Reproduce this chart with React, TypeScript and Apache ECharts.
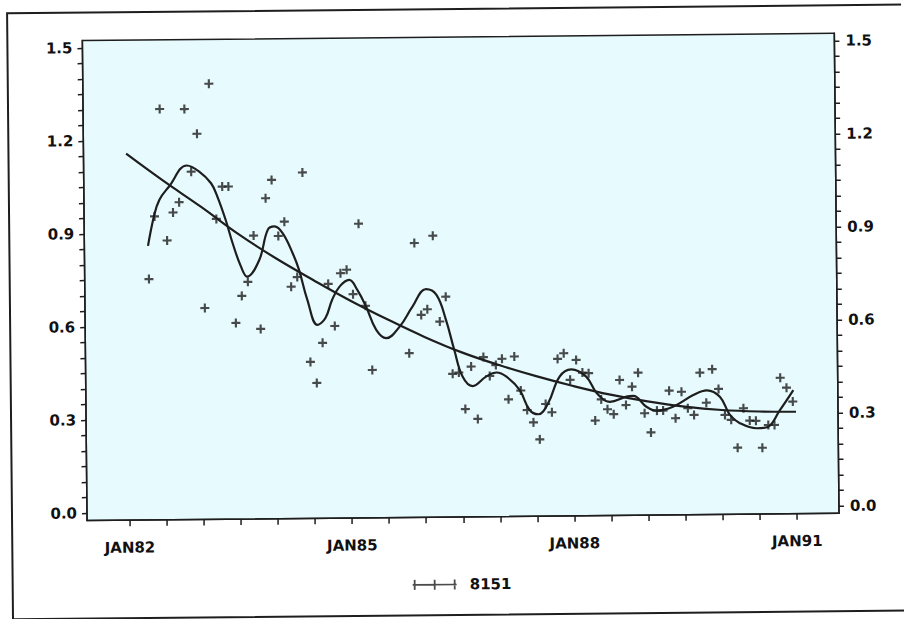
import React, { useEffect, useRef } from 'react';
import * as echarts from 'echarts';

// Months are counted from JAN82 (0 = January 1982).
const seriesName = '8151';
const firstMonth = 3; // first observation: April 1982
const monthlyValues: (number | null)[] = [
  0.753, 0.955, 1.301, 0.877, 0.967, 1.0, 1.3, 1.098, 1.22, 0.658,
  1.381, 0.945, 1.049, 1.049, 0.609, 0.696, 0.741, 0.89, 0.589, 1.01,
  1.069, 0.888, 0.934, 0.724, 0.755, 1.092, 0.481, 0.413, 0.542, 0.732,
  0.596, 0.766, 0.777, 0.698, 0.925, 0.66, 0.453,
  null, null, null, null, null,
  0.506, 0.861, 0.629, 0.647, 0.884, 0.607, 0.687, 0.438, 0.442, 0.324,
  0.461, 0.292, 0.491, 0.43, 0.465, 0.485, 0.354, 0.492, 0.382, 0.319,
  0.279, 0.224, 0.338, 0.311, 0.483, 0.501, 0.415, 0.479, 0.438, 0.436,
  0.283, 0.351, 0.319, 0.303, 0.413, 0.332, 0.391, 0.436, 0.305, 0.243,
  0.313, 0.313, 0.377, 0.288, 0.373, 0.32, 0.298, 0.434, 0.337, 0.445,
  0.381, 0.297, 0.281, 0.191, 0.318, 0.278, 0.277, 0.19, 0.263, 0.263,
  0.415, 0.383, 0.338,
];

const trendMonths = [0, 6, 12, 18, 24, 30, 36, 42, 48, 54, 60, 66, 72, 78, 84, 90, 96, 102, 108];
const trendValues = [1.158, 1.069, 0.985, 0.896, 0.817, 0.746, 0.678, 0.616, 0.558, 0.507, 0.465, 0.428, 0.395, 0.366, 0.343, 0.325, 0.313, 0.307, 0.305];

const fitMonths = [3.4, 4.4, 5.3, 6.9, 9.8, 11.8, 13.7, 14.7, 16.0, 17.1, 18.4, 19.4, 21.4, 22.8, 23.9, 25.2, 26.8, 27.8, 29.1, 30.7, 32.0, 33.1, 34.3, 35.9, 37.2, 38.6, 40.2, 41.8, 44.0, 46.1, 48.3, 50.0, 51.5, 52.8, 54.1, 55.7, 57.9, 59.6, 61.2, 63.3, 64.9, 66.3, 67.9, 69.8, 71.7, 74.1, 75.8, 77.9, 80.6, 81.7, 83.8, 85.4, 88.1, 91.4, 93.6, 95.7, 97.3, 98.9, 101.6, 103.3, 105.4, 107.6];
const fitValues = [0.86, 0.955, 1.008, 1.051, 1.118, 1.098, 1.06, 1.017, 0.942, 0.866, 0.791, 0.758, 0.812, 0.908, 0.919, 0.897, 0.832, 0.778, 0.681, 0.6, 0.622, 0.68, 0.722, 0.744, 0.712, 0.657, 0.582, 0.555, 0.592, 0.656, 0.712, 0.693, 0.612, 0.515, 0.429, 0.398, 0.428, 0.441, 0.427, 0.384, 0.319, 0.305, 0.34, 0.426, 0.449, 0.425, 0.371, 0.343, 0.359, 0.361, 0.326, 0.313, 0.325, 0.362, 0.377, 0.356, 0.297, 0.27, 0.253, 0.256, 0.311, 0.375];

const yMajorTicks = [0, 0.3, 0.6, 0.9, 1.2, 1.5];
const yTickLabels = ['0.0', '0.3', '0.6', '0.9', '1.2', '1.5'];
const xMajorTicks = [0, 36, 72, 108];
const xTickLabels = ['JAN82', 'JAN85', 'JAN88', 'JAN91'];

const FONT = "'DejaVu Sans', 'Liberation Sans', sans-serif";
const INK = '#1e1e1e';
const PLUS = 'path://M3.8,0H6.2V3.8H10V6.2H6.2V10H3.8V6.2H0V3.8H3.8Z';
const LEGEND_ICON =
  'path://M0,4.2H44V5.8H0Z M1.1,0H2.9V10H1.1Z M21.1,0H22.9V10H21.1Z M41.1,0H42.9V10H41.1Z';

export default function App() {
  const ref = useRef<HTMLDivElement>(null);

  useEffect(() => {
    if (!ref.current) return;
    const chart = echarts.init(ref.current, undefined, { renderer: 'svg' });

    const xMin = -6.9;
    const xMax = 114.8;
    const yMin = -0.0235;
    const yMax = 1.524;

    // every tick: majors plus the minor ones (0.05 apart on y, 6 months apart on x)
    const yAllTicks: number[] = [];
    for (let k = 0; k <= 30; k++) yAllTicks.push(+(k * 0.05).toFixed(2));
    const xAllTicks: number[] = [];
    for (let m = 0; m <= 108; m += 6) xAllTicks.push(m);

    const scatterData = monthlyValues
      .map((v, i) => (v == null ? null : [firstMonth + i + 0.5, v]))
      .filter((d) => d != null);
    const trendData = trendMonths.map((m, i) => [m, trendValues[i]]);
    const fitData = fitMonths.map((m, i) => [m, fitValues[i]]);

    const labelStyle = { fontFamily: FONT, fontWeight: 'bold' as const, fontSize: 15, color: '#111' };
    const lineSt = { color: INK, width: 1.5 };

    const yAxisOf = (position: 'left' | 'right', margin: number) => ({
      type: 'value',
      min: yMin,
      max: yMax,
      position,
      axisLine: { show: true, onZero: false, lineStyle: lineSt },
      axisTick: { show: true, customValues: yAllTicks, length: 5, lineStyle: lineSt },
      axisLabel: {
        customValues: yMajorTicks,
        formatter: (v: number) => yTickLabels[yMajorTicks.indexOf(+v.toFixed(1))] ?? '',
        margin,
        ...labelStyle,
      },
      splitLine: { show: false },
    });

    chart.setOption({
      animation: false,
      backgroundColor: '#ffffff',
      graphic: [
        {
          type: 'rect',
          shape: { x: 10, y: 9, width: 900, height: 606 },
          style: { fill: 'none', stroke: INK, lineWidth: 2 },
          silent: true,
        },
      ],
      grid: {
        left: 85,
        right: 67,
        top: 37,
        height: 480,
        show: true,
        backgroundColor: '#E7FAFD',
        borderColor: INK,
        borderWidth: 1.5,
      },
      legend: {
        data: [{ name: seriesName, icon: LEGEND_ICON }],
        left: 405,
        top: 572,
        itemWidth: 44,
        itemHeight: 10,
        textStyle: { ...labelStyle, padding: [0, 0, 0, 8] },
      },
      xAxis: {
        type: 'value',
        min: xMin,
        max: xMax,
        position: 'bottom',
        axisLine: { show: true, onZero: false, lineStyle: lineSt },
        axisTick: { show: true, customValues: xAllTicks, length: 6, lineStyle: lineSt },
        axisLabel: {
          customValues: xMajorTicks,
          formatter: (v: number) => xTickLabels[xMajorTicks.indexOf(Math.round(v))] ?? '',
          margin: 20,
          ...labelStyle,
        },
        splitLine: { show: false },
      },
      yAxis: [yAxisOf('left', 10), yAxisOf('right', 11)],
      series: [
        {
          name: seriesName,
          type: 'scatter',
          xAxisIndex: 0,
          yAxisIndex: 0,
          symbol: PLUS,
          symbolSize: 9,
          itemStyle: { color: INK },
          data: scatterData,
          z: 3,
        },
        {
          name: 'fit',
          type: 'line',
          xAxisIndex: 0,
          yAxisIndex: 0,
          smooth: 0.4,
          showSymbol: false,
          lineStyle: { color: INK, width: 2.2 },
          data: fitData,
          z: 2,
        },
        {
          name: 'trend',
          type: 'line',
          xAxisIndex: 0,
          yAxisIndex: 0,
          smooth: 0.4,
          showSymbol: false,
          lineStyle: { color: INK, width: 2.2 },
          data: trendData,
          z: 2,
        },
      ],
    });

    return () => chart.dispose();
  }, []);

  return (
    <div
      ref={ref}
      style={{
        position: 'absolute',
        left: 0,
        top: 0,
        width: 904,
        height: 619,
        transform: 'rotate(-0.56deg)',
        transformOrigin: '452px 309.5px',
      }}
    />
  );
}
